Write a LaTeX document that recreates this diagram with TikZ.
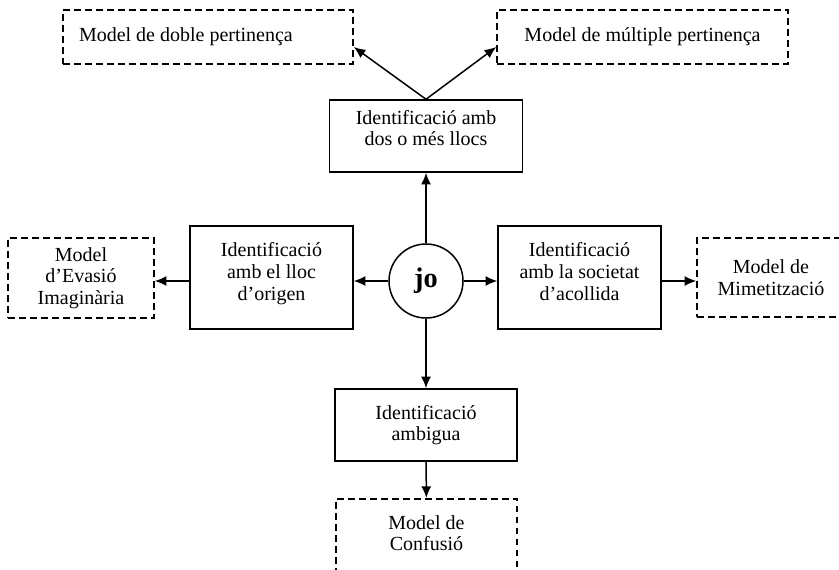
\documentclass[tikz,border=0pt]{standalone}
\usepackage{fontspec}
\setmainfont{Liberation Serif}
\usetikzlibrary{arrows.meta,positioning}

\begin{document}
\begin{tikzpicture}[x=0.6pt,y=-0.6pt,->,>={Latex[length=7pt,width=6pt]},line width=0.9pt,
  every node/.style={font=\fontsize{12}{13}\selectfont,align=center,inner sep=0pt},
  solidbox/.style={draw,rectangle},
  dashbox/.style={draw,rectangle,dash pattern=on 4pt off 2.6pt}]
  \useasboundingbox (0,0) rectangle (839,569);
  \node[draw,circle,minimum size=44.4pt,font=\fontsize{17}{17}\selectfont\bfseries] (jo) at (426,281) {jo};
  % top
  \node[solidbox,minimum width=115.8pt,minimum height=43.2pt,text depth=9.8pt] (dos) at (426,136) {Identificació amb\\dos o més llocs};
  \node[dashbox,minimum width=174pt,minimum height=32.4pt] (doble) at (208,37) {\makebox[154.8pt][l]{Model de doble pertinença}};
  \node[dashbox,minimum width=174.6pt,minimum height=32.4pt] (multiple) at (642.5,37) {Model de múltiple pertinença};
  % left and right
  \node[solidbox,minimum width=97.8pt,minimum height=61.8pt,text depth=7.4pt] (lloc) at (271.5,277.5) {Identificació\\amb el lloc\\d'origen};
  \node[dashbox,minimum width=87.6pt,minimum height=48pt] (evasio) at (81,278) {Model\\d'Evasió\\Imaginària};
  \node[solidbox,minimum width=97.8pt,minimum height=61.8pt,text depth=7.4pt] (societat) at (579.5,277.5) {Identificació\\amb la societat\\d'acollida};
  \node[dashbox,minimum width=88.8pt,minimum height=47.4pt] (mimetitzacio) at (771,277.5) {Model de\\Mimetització};
  % bottom
  \node[solidbox,minimum width=109.2pt,minimum height=43.2pt] (ambigua) at (426,425) {Identificació\\ambigua};
  \node[dashbox,anchor=north,minimum width=108.6pt,inner ysep=10pt,text depth=10pt] (confusio) at (426.5,498) {Model de\\Confusió};

  \path (jo) edge (dos)
    (dos.north) edge ([yshift=-6pt]doble.east)
    (dos.north) edge ([yshift=-6pt]multiple.west)
    (jo) edge (lloc.east |- jo)
    (lloc.west |- jo) edge (evasio.east |- jo)
    (jo) edge (societat.west |- jo)
    (societat.east |- jo) edge (mimetitzacio.west |- jo)
    (jo) edge (ambigua)
    (ambigua) edge (confusio);
\end{tikzpicture}
\end{document}
